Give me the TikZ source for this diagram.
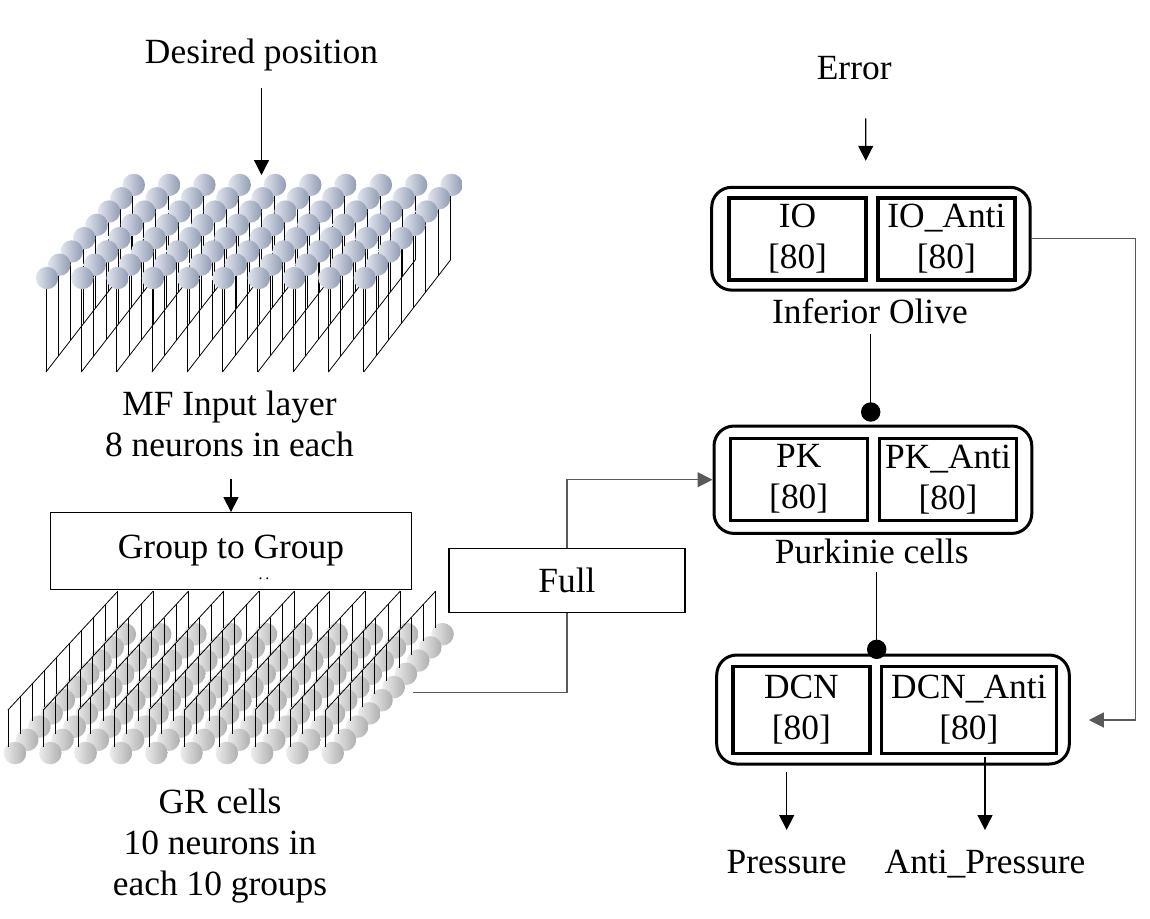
\documentclass[tikz,border=0pt]{standalone}
\usepackage{fontspec}
\setmainfont{Liberation Serif}
\usetikzlibrary{arrows.meta,calc}
\definecolor{mflight}{RGB}{226,229,237}
\definecolor{mfdark}{RGB}{144,156,180}
\definecolor{grlight}{RGB}{236,236,236}
\definecolor{grdark}{RGB}{175,175,175}
\newcommand{\mfcell}[2]{% column, row
 \pgfmathsetmacro{\Xm}{47+35.3*#1+12.4*#2}
 \pgfmathsetmacro{\Ym}{278-13.3*#2}
 \pgfmathsetmacro{\Yb}{372-16*#2}
\draw (\Xm-1,\Ym)--(\Xm-1,\Yb);
\shade[left color=mflight,right color=mfdark] (\Xm,\Ym) circle (11.2);
}
\newcommand{\grcell}[2]{% column, row
 \pgfmathsetmacro{\Xg}{15+35.3*#1+12.2*#2}
 \pgfmathsetmacro{\Yg}{753-13.2*#2}
\shade[left color=grlight,right color=grdark] (\Xg,\Yg) circle (11.3);
}
\newcommand{\grstem}[2]{% column, row
 \pgfmathsetmacro{\Xs}{8+35.3*#1+12.2*#2}
 \pgfmathsetmacro{\Ys}{753-13.2*#2}
\draw (\Xs,\Ys-6)--(\Xs,\Ys-43);
}
\begin{document}
\begin{tikzpicture}[x=0.5pt,y=-0.5pt,font=\fontsize{17.7}{20.5}\selectfont,
 txt/.style={inner sep=0pt,anchor=base},
 cell/.style={draw,line width=1.6pt,minimum width=68.5pt,minimum height=41pt,inner sep=0pt,align=center},
 pool/.style={draw,line width=1.5pt,rounded corners=10pt,inner sep=0pt},
 conn/.style={draw,line width=0.6pt,inner sep=0pt},
 arr/.style={line width=0.6pt,-{Triangle[length=7.5pt,width=7.5pt]}},
 dotarr/.style={line width=0.6pt,-{Circle[length=9.7pt]}},
 fb/.style={draw=black!65,line width=0.7pt}]
\useasboundingbox (0,0) rectangle (1150,918);

\foreach \c in {0,...,9} \draw (46+35.3*\c,372)--++(86.8,-112);
\foreach \r in {7,6,...,0}{\foreach \c in {0,...,9}{\mfcell{\c}{\r}}}

\foreach \r in {9,8,...,0}{\foreach \c in {0,...,9}{\grcell{\c}{\r}}}
\foreach \r in {9,8,...,0}{\foreach \c in {0,...,9}{\grstem{\c}{\r}}}
\foreach \c in {0,...,9} \draw (8+35.3*\c,710)--++(109.8,-118.8);

\node[txt] (des) at (261.5,63.3) {Desired position};
\coordinate (mftop) at (261.5,175);
\node[txt,align=center] (mflbl) at (229.5,456) {MF Input layer\\8 neurons in each};
\node[conn,minimum width=180.5pt,minimum height=38.3pt] (g2g) at (231,551) {};
\node[txt] (g2gtxt) at (231,558) {Group to Group};
\node[txt,font=\fontsize{8}{8}\selectfont] (g2gdots) at (264,579) {.\,.};
\node[txt,align=center] (grlbl) at (220,895) {GR cells\\10 neurons in\\each 10 groups};
\coordinate (grout) at (413,692.7);
\node[conn,minimum width=118pt,minimum height=32.2pt] (full) at (567,580.5) {Full};

\node[txt] (err) at (854.2,79.3) {Error};
\node[pool,minimum width=159.2pt,minimum height=51.4pt] (io) at (870.9,238.7) {};
\node[cell] (io1) at (797.5,239) {IO\\{[80]}};
\node[cell] (io2) at (946.4,239) {IO\_Anti\\{[80]}};
\node[txt] (iolbl) at (869.9,323.3) {Inferior Olive};
\node[pool,minimum width=158.9pt,minimum height=53.7pt] (pk) at (872.9,479.7) {};
\node[cell] (pk1) at (798.7,479.2) {PK\\{[80]}};
\node[cell] (pk2) at (948,479.2) {PK\_Anti\\{[80]}};
\node[txt] (pklbl) at (871.7,563.3) {Purkinie cells};
\node[pool,minimum width=176.3pt,minimum height=54.5pt] (dcn) at (893,709.5) {};
\node[cell,minimum height=43.3pt] (dcn1) at (801.4,710) {DCN\\{[80]}};
\node[cell,minimum width=87.2pt,minimum height=43.3pt] (dcn2) at (968.9,710) {DCN\_Anti\\{[80]}};
\node[txt] (press) at (786.7,873.3) {Pressure};
\node[txt] (apress) at (985,873.3) {Anti\_Pressure};
\coordinate (fbin) at ($(dcn.east)+(18,10.5)$);

\draw[arr] ($(des.base)+(0,25)$)--(mftop);
\draw[arr] ($(mflbl.south -| g2g.north)+(0,22)$)--(g2g.north);
\draw[arr] ($(err.base)+(11.5,39)$)--($(io.north)+(-5.2,-25)$);
\draw[dotarr] ($(iolbl.base)+(0.8,10.7)$)--($(iolbl.base |- pk.north)+(0.8,-2.8)$);
\draw[dotarr] ($(pklbl.base)+(5,8.4)$)--($(pklbl.base |- dcn.north)+(5,5.5)$);
\draw[fb,arr] (io.east)--++(103.5,0)|-(fbin);
\draw[fb] (grout)-|(full.south);
\draw[fb,arr] (full.north)|-(pk.west);
\draw[arr] ($(press.base |- dcn.south)+(0,6.5)$)--($(press.base)+(0,-43.3)$);
\draw[arr] ($(apress.base |- dcn2.south)+(0,2)$)--($(apress.base)+(0,-43.3)$);
\end{tikzpicture}
\end{document}
